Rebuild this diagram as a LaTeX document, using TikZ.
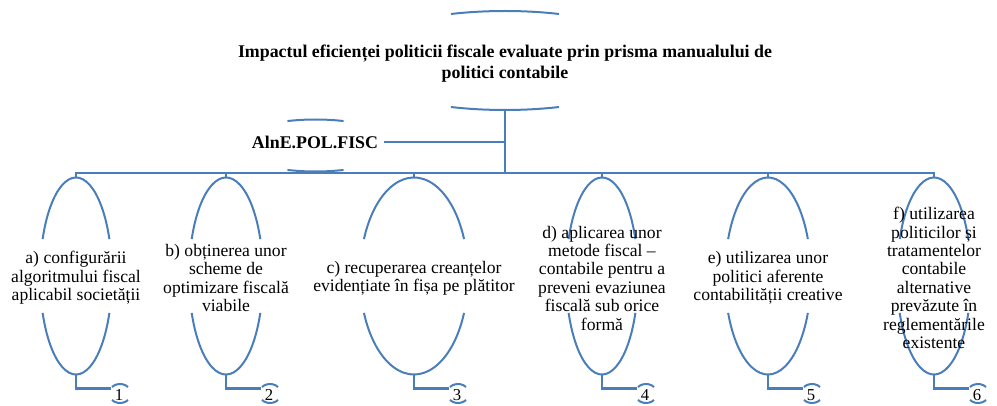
\documentclass[tikz,border=0pt]{standalone}
\usepackage{fontspec}
\setmainfont{Liberation Serif}
\usetikzlibrary{shapes.geometric}
\usetikzlibrary{calc}
\definecolor{linkblue}{RGB}{74,126,187}
% ellipse with only its upper and lower arcs: name, x, y, rx, ry, cut angle
\newcommand{\archnode}[6]{%
  \node[archshape, minimum width={1.5pt*#4}, minimum height={1.5pt*#5}] (#1) at (#2,#3) {};
  \draw[archline] (#1.center) ++(180+#6:#4 and #5) arc[start angle=180+#6, end angle=360-#6, x radius=#4, y radius=#5]
                  (#1.center) ++(#6:#4 and #5) arc[start angle=#6, end angle=180-#6, x radius=#4, y radius=#5];}
\tikzset{
    archshape/.style = {ellipse, inner sep=0pt, outer sep=0pt},
    archline/.style = {draw=linkblue, line width=1.5pt},
    link/.style = {draw=linkblue, line width=2.2pt},
    boxtext/.style = {align=center, inner sep=1pt, font=\fontsize{13.2pt}{13.8pt}\selectfont},
    headtext/.style = {align=center, inner sep=1pt, font=\bfseries\fontsize{13.4pt}{16pt}\selectfont},
    numtext/.style = {inner sep=0pt, font=\fontsize{12.5pt}{13pt}\selectfont}}

\begin{document}
\begin{tikzpicture}[x=0.75pt, y=-0.75pt]
    \useasboundingbox (0,0) rectangle (997,406);
    % head and assistant
    \archnode{root}{505}{60.5}{158}{49.5}{70}
    \node[headtext] (roottxt) at (505,63.5) {Impactul eficienței politicii fiscale evaluate prin prisma manualului de\\politici contabile};
    \archnode{alne}{315.5}{145.5}{82}{26}{70}
    \node[headtext] (alnetxt) at (315,142) {AlnE.POL.FISC};
    \coordinate (bus) at (505,173);
    \draw[link] (root.south) -- (bus);
    \draw[link] ([xshift=3pt]alnetxt.east) -- (alnetxt.east -| root.south);
    % the six branches with their numbers
    \foreach \i/\x/\rx/\txt in {
        1/76/36/{a) configurării\\algoritmului fiscal\\aplicabil societății},
        2/226/37/{b) obținerea unor\\scheme de\\optimizare fiscală\\viabile},
        3/414/54/{c) recuperarea creanțelor\\evidențiate în fișa pe plătitor},
        4/602/36/{d) aplicarea unor\\metode fiscal –\\contabile pentru a\\preveni evaziunea\\fiscală sub orice\\formă},
        5/768/43/{e) utilizarea unor\\politici aferente\\contabilității creative},
        6/934/37/{f) utilizarea\\politicilor și\\tratamentelor\\contabile\\alternative\\prevăzute în\\reglementările\\existente}} {
        \archnode{c\i}{\x}{276}{\rx}{98.5}{22}
        \node[boxtext] (t\i) at (\x,278) {\txt};
        \archnode{n\i}{\x+44}{393.5}{11}{9.5}{43}
        \node[numtext] (d\i) at (\x+43,395) {\i};
        \draw[link] (c\i.north) |- (bus);
        \draw[link] (c\i.south) |- (n\i.150);
    }
\end{tikzpicture}
\end{document}
